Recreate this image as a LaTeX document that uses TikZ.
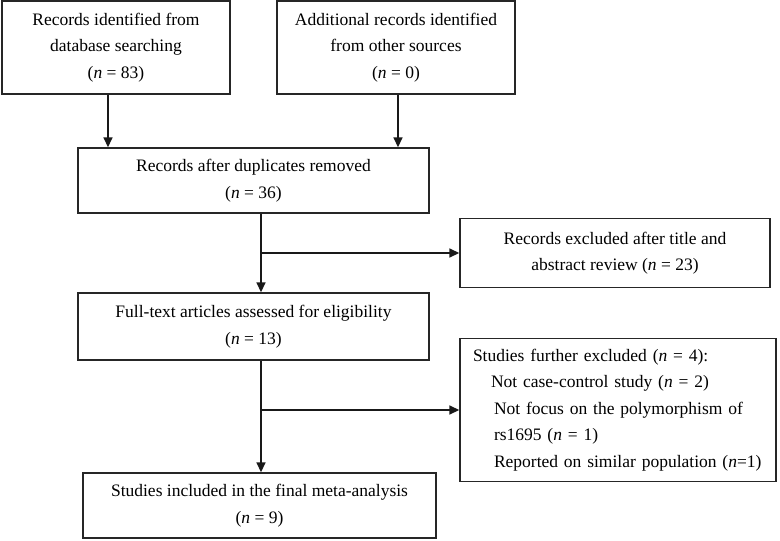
\documentclass[tikz,border=0pt]{standalone}
\usepackage{fontspec}
\setmainfont{Liberation Serif}
\usetikzlibrary{arrows.meta}
\begin{document}
\begin{tikzpicture}[x=1pt,y=-1pt,
  box/.style={draw=black!85, line width=1.4pt, rectangle, inner sep=0pt, align=center,
    font=\fontsize{17.5}{26.5}\selectfont},
  arr/.style={draw=black!90, line width=1.6pt, -{Triangle[length=10pt,width=9pt]}}]
\useasboundingbox (0,0) rectangle (780,541);
\node[box, minimum width=228pt, minimum height=93pt] (b1) at (116,47.5)
  {Records identified from\\database searching\\(\textit{n} = 83)};
\node[box, minimum width=238pt, minimum height=93pt] (b2) at (396,47.5)
  {Additional records identified\\from other sources\\(\textit{n} = 0)};
\node[box, minimum width=351pt, minimum height=65pt] (b3) at (253.5,180.5)
  {Records after duplicates removed\\(\textit{n} = 36)};
\node[box, minimum width=310pt, minimum height=69pt] (ex1) at (615,253)
  {Records excluded after title and\\abstract review (\textit{n} = 23)};
\node[box, minimum width=351pt, minimum height=67pt] (b4) at (253.5,326.5)
  {Full-text articles assessed for eligibility\\(\textit{n} = 13)};
\node[box, minimum width=316pt, minimum height=143pt, align=left, text width=316pt] (ex2) at (618,410)
  {\hspace*{13pt}Studies further excluded (\textit{n} = 4):\\
   \hspace*{31pt}Not case-control study (\textit{n} = 2)\\
   \hspace*{34pt}Not focus on the polymorphism of\\
   \hspace*{34pt}rs1695 (\textit{n} = 1)\\
   \hspace*{34pt}Reported on similar population (\textit{n}=1)};
\node[box, minimum width=353pt, minimum height=65pt] (b5) at (259.5,505.5)
  {Studies included in the final meta-analysis\\(\textit{n} = 9)};
% connectors
\draw[arr] ([xshift=-8pt]b1.south) -- ([xshift=-8pt]b1.south |- b3.north);
\draw[arr] ([xshift=2pt]b2.south) -- ([xshift=2pt]b2.south |- b3.north);
\coordinate (v1) at ([xshift=7.5pt]b3.south);
\draw[arr] (v1) -- (v1 |- b4.north);
\draw[arr] (v1 |- ex1.west) -- (ex1.west);
\coordinate (v2) at ([xshift=7.5pt]b4.south);
\draw[arr] (v2) -- (v2 |- b5.north);
\draw[arr] (v2 |- ex2.west) -- (ex2.west);
\end{tikzpicture}
\end{document}
